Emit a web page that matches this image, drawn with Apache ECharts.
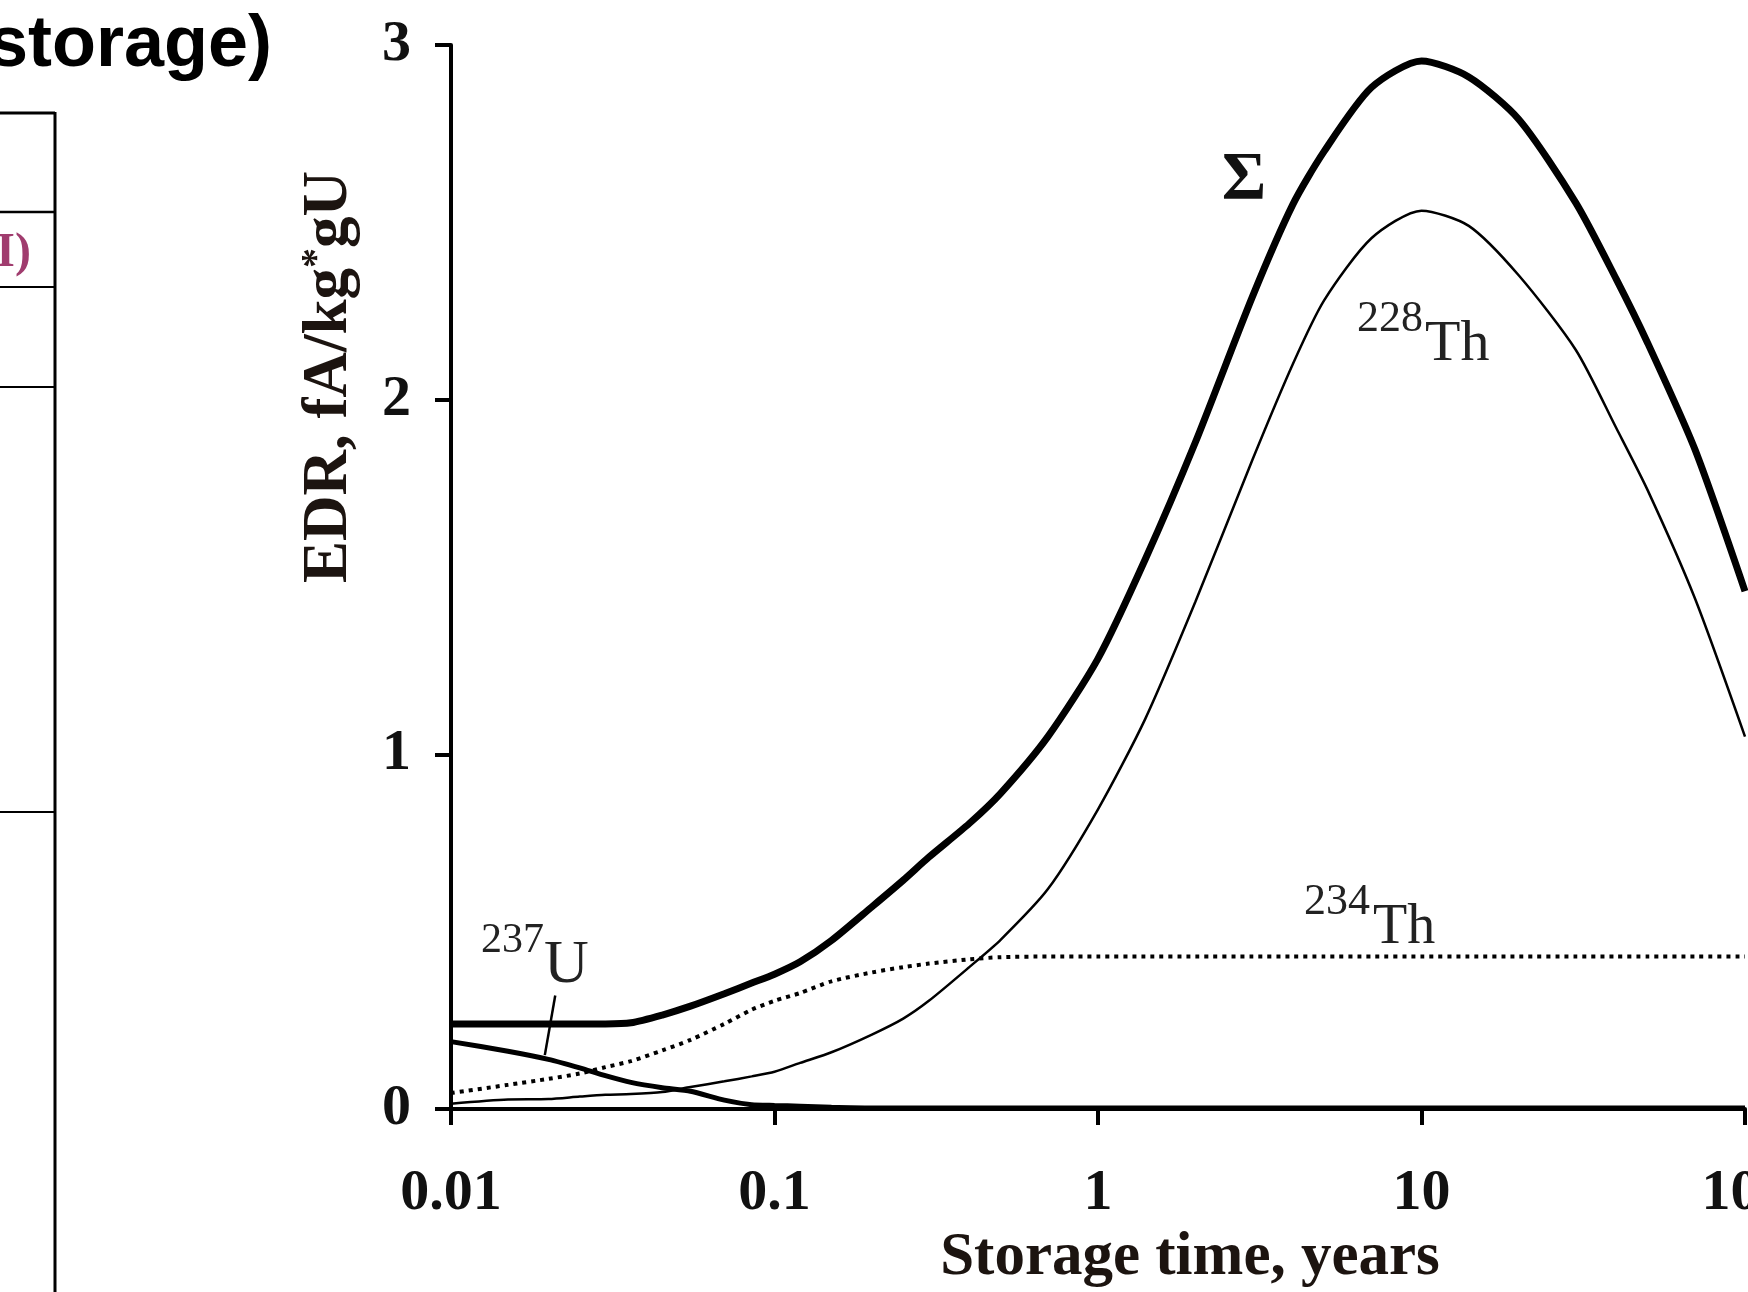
<!DOCTYPE html>
<html>
<head>
<meta charset="utf-8">
<title>EDR vs storage time</title>
<script src="https://cdn.jsdelivr.net/npm/echarts@6/dist/echarts.min.js"></script>
<style>
html,body{margin:0;padding:0;background:#fff;}
#main{width:1748px;height:1292px;}
</style>
</head>
<body>
<div id="main"></div>
<script>
// storage time, years (log axis)
var storageYears=[0.01,0.015,0.02,0.025,0.03,0.036,0.045,0.055,0.07,0.085,0.1,0.12,0.15,0.2,0.25,0.3,0.4,0.5,0.7,1,1.4,2,3,4,5,7,10,14,20,30,40,50,70,100];
// EDR, fA/kg*gU
var edrSum=[0.24,0.24,0.24,0.24,0.24,0.243,0.265,0.29,0.325,0.355,0.38,0.415,0.475,0.57,0.645,0.71,0.805,0.89,1.05,1.27,1.55,1.88,2.29,2.55,2.70,2.88,2.955,2.91,2.79,2.555,2.34,2.16,1.86,1.46];
var edrTh228=[0.015,0.027,0.028,0.035,0.040,0.042,0.048,0.062,0.078,0.092,0.105,0.13,0.16,0.21,0.255,0.305,0.40,0.477,0.62,0.845,1.10,1.43,1.83,2.10,2.28,2.455,2.533,2.49,2.35,2.14,1.92,1.745,1.44,1.05];
var edrTh234=[0.045,0.068,0.085,0.10,0.118,0.135,0.165,0.195,0.24,0.28,0.305,0.327,0.36,0.385,0.40,0.41,0.422,0.428,0.43,0.43,0.43,0.43,0.43,0.43,0.43,0.43,0.43,0.43,0.43,0.43,0.43,0.43,0.43,0.43];
var edrU237=[0.19,0.163,0.14,0.116,0.094,0.075,0.06,0.05,0.025,0.012,0.01,0.008,0.005,0.003,0.003,0.003,0.003,0.003,0.003,0.003,0.003,0.003,0.003,0.003,0.003,0.003,0.003,0.003,0.003,0.003,0.003,0.003,0.003,0.003];
// leader from the 237U label to its curve
var u237Leader=[[0.021,0.32],[0.0195,0.152]];

var serif='"Liberation Serif","Times New Roman",serif';

function pairs(ys){
	var out=[];
	for(var i=0;i<storageYears.length;i++){
		out.push([storageYears[i],ys[i]]);
	}
	return out;
}

var myChart=echarts.init(document.getElementById('main'),null,{renderer:'canvas'});

var option={
	backgroundColor:'#fff',
	animation:false,
	grid:{left:451,right:3,top:45,bottom:183,containLabel:false,outerBoundsMode:'none'},
	xAxis:{
		type:'log',
		logBase:10,
		min:0.01,
		max:100,
		axisLine:{show:true,lineStyle:{color:'#000',width:4}},
		axisTick:{show:true,length:16,lineStyle:{color:'#000',width:4}},
		splitLine:{show:false},
		minorTick:{show:false},
		axisLabel:{
			show:true,showMinLabel:true,showMaxLabel:true,
			margin:56,
			color:'#111',fontFamily:serif,fontWeight:'bold',fontSize:58,
			formatter:function(v){return String(+(+v).toPrecision(2));}
		}
	},
	yAxis:{
		type:'value',
		min:0,
		max:3,
		interval:1,
		axisLine:{show:true,lineStyle:{color:'#000',width:4}},
		axisTick:{show:true,length:16,lineStyle:{color:'#000',width:4}},
		splitLine:{show:false},
		axisLabel:{margin:40,color:'#111',fontFamily:serif,fontWeight:'bold',fontSize:58}
	},
	series:[
		{
			name:'237U',type:'line',data:pairs(edrU237),showSymbol:false,smooth:0.2,
			lineStyle:{color:'#000',width:5},z:3,
			markLine:{
				silent:true,symbol:'none',label:{show:false},
				lineStyle:{color:'#000',width:2.5,type:'solid'},
				data:[[{coord:u237Leader[0]},{coord:u237Leader[1]}]]
			}
		},
		{
			name:'234Th',type:'line',data:pairs(edrTh234),showSymbol:false,smooth:0.25,
			lineStyle:{color:'#000',width:4,type:[4,5]},z:4
		},
		{
			name:'228Th',type:'line',data:pairs(edrTh228),showSymbol:false,smooth:0.25,
			lineStyle:{color:'#000',width:2.5},z:5
		},
		{
			name:'Σ',type:'line',data:pairs(edrSum),showSymbol:false,smooth:0.25,
			lineStyle:{color:'#000',width:7},z:6
		}
	],
	graphic:[
		// slide fragments on the left
		{type:'text',x:272,y:46,style:{text:'storage)',font:'bold 72px "Liberation Sans",Arial,sans-serif',fill:'#000',align:'right',verticalAlign:'middle'}},
		{type:'line',shape:{x1:55,y1:112,x2:55,y2:1292},style:{stroke:'#000',lineWidth:3}},
		{type:'line',shape:{x1:0,y1:113,x2:55,y2:113},style:{stroke:'#000',lineWidth:3}},
		{type:'line',shape:{x1:0,y1:212,x2:55,y2:212},style:{stroke:'#000',lineWidth:2.5}},
		{type:'line',shape:{x1:0,y1:287,x2:55,y2:287},style:{stroke:'#000',lineWidth:2}},
		{type:'line',shape:{x1:0,y1:387,x2:55,y2:387},style:{stroke:'#000',lineWidth:2}},
		{type:'line',shape:{x1:0,y1:812,x2:55,y2:812},style:{stroke:'#000',lineWidth:2}},
		{type:'text',x:31,y:254,style:{text:'I)',font:'bold 48px '+serif,fill:'#a03c6e',align:'right',verticalAlign:'middle'}},
		// axis names
		{type:'text',x:330,y:377,rotation:Math.PI/2,style:{
			text:'{a|EDR, fA/kg}{b|*}{a|gU}',align:'center',verticalAlign:'middle',
			rich:{
				a:{font:'bold 63px '+serif,fill:'#1c1410',lineHeight:64},
				b:{font:'bold 40px '+serif,fill:'#1c1410',verticalAlign:'top',lineHeight:64}
			}
		}},
		{type:'text',x:1190,y:1258,style:{text:'Storage time, years',font:'bold 61px '+serif,fill:'#1c1410',align:'center',verticalAlign:'middle'}},
		// curve labels
		{type:'text',x:1244,y:180,style:{text:'Σ',font:'bold 68px '+serif,fill:'#111',align:'center',verticalAlign:'middle'}},
		{type:'text',x:1357,y:319,style:{text:'228',font:'44px '+serif,fill:'#222',align:'left',verticalAlign:'middle'}},
		{type:'text',x:1425,y:345,style:{text:'Th',font:'58px '+serif,fill:'#222',align:'left',verticalAlign:'middle'}},
		{type:'text',x:1304,y:902,style:{text:'234',font:'44px '+serif,fill:'#222',align:'left',verticalAlign:'middle'}},
		{type:'text',x:1373,y:928,style:{text:'Th',font:'56px '+serif,fill:'#222',align:'left',verticalAlign:'middle'}},
		{type:'text',x:481,y:941,style:{text:'237',font:'42px '+serif,fill:'#222',align:'left',verticalAlign:'middle'}},
		{type:'text',x:544,y:966,style:{text:'U',font:'62px '+serif,fill:'#222',align:'left',verticalAlign:'middle'}}
	]
};
myChart.setOption(option);
</script>
</body>
</html>
